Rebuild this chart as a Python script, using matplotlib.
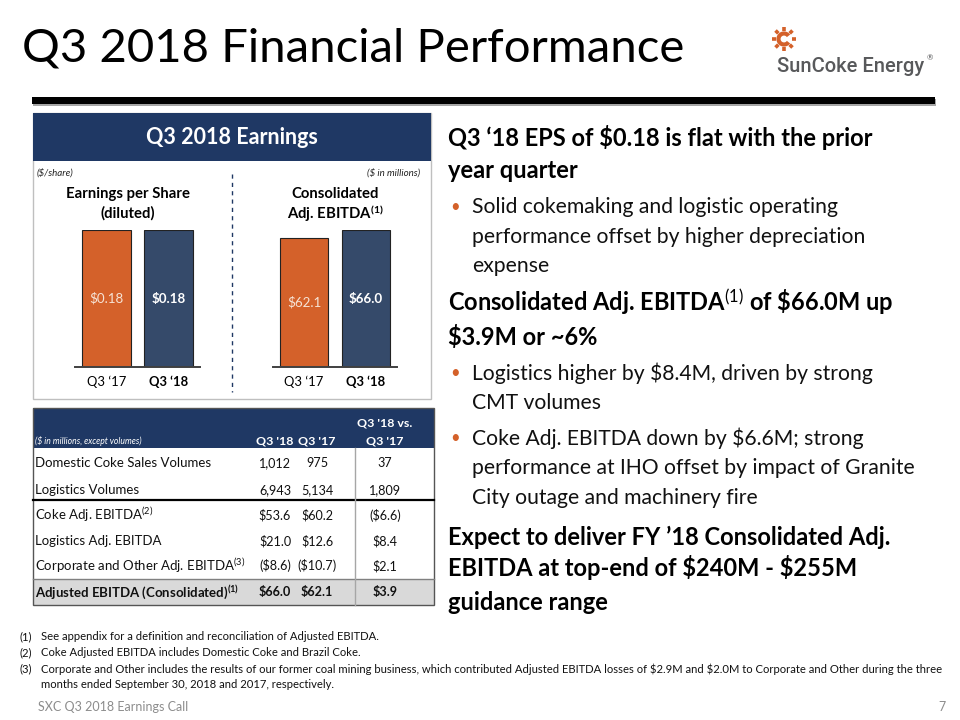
"""
Q3 2018 Financial Performance slide, redrawn with matplotlib.
Whole slide lives on one pixel-space axes; the two bar charts get their own axes.
"""
import numpy as np
import matplotlib
matplotlib.use("Agg")
import matplotlib.pyplot as plt
import matplotlib.patches as mpatches

W, H, DPI = 960, 720, 100

# ── Colors ─────────────────────────────────────────────────────────────────────
NAVY = "#1F3864";  BAR_NAVY = "#354A6A";  ORANGE = "#D4612A"
BORDER = "#BFBFBF";  ROW_GRAY = "#D9D9D9";  FOOT_GRAY = "#8C8C8C"
LOGO_GRAY = "#58595B";  TXT = "#111111"

plt.rcParams["font.family"] = ["Lato", "DejaVu Sans"]
plt.rcParams["mathtext.fontset"] = "custom"
plt.rcParams["mathtext.rm"] = "Lato"
plt.rcParams["mathtext.bf"] = "Lato:bold"
plt.rcParams["mathtext.it"] = "Lato:italic"

# ── Data ───────────────────────────────────────────────────────────────────────
periods = ["Q3 \u201817", "Q3 \u201818"]
eps = [0.18, 0.18]
adj_ebitda = [62.1, 66.0]

row_labels = ["Domestic Coke Sales Volumes", "Logistics Volumes",
              "Coke Adj. EBITDA$^{(2)}$", "Logistics Adj. EBITDA",
              "Corporate and Other Adj. EBITDA$^{(3)}$",
              "Adjusted EBITDA (Consolidated)$^{\\mathbf{(1)}}$"]
col_q318 = ["1,012", "6,943", "$53.6", "$21.0", "($8.6)", "$66.0"]
col_q317 = ["975", "5,134", "$60.2", "$12.6", "($10.7)", "$62.1"]
col_chg = ["37", "1,809", "($6.6)", "$8.4", "$2.1", "$3.9"]
col_heads_top = ["", "", "Q3 '18 vs."]
col_heads = ["Q3 '18", "Q3 '17", "Q3 '17"]

# (kind, text): h = bold heading, b = bullet line, c = bullet continuation
right_lines = [
    ("h", "Q3 \u201818 EPS of $0.18 is flat with the prior"),
    ("h", "year quarter"),
    ("b", "Solid cokemaking and logistic operating"),
    ("c", "performance offset by higher depreciation"),
    ("c", "expense"),
    ("h", "Consolidated Adj. EBITDA$^{(1)}$ of \\$66.0M up"),
    ("h", "$3.9M or ~6%"),
    ("b", "Logistics higher by $8.4M, driven by strong"),
    ("c", "CMT volumes"),
    ("b", "Coke Adj. EBITDA down by $6.6M; strong"),
    ("c", "performance at IHO offset by impact of Granite"),
    ("c", "City outage and machinery fire"),
    ("h", "Expect to deliver FY \u201918 Consolidated Adj."),
    ("h", "EBITDA at top-end of $240M - $255M"),
    ("h", "guidance range"),
]
right_y = [137, 170, 207, 237, 266, 303, 337, 373, 403, 438, 468, 498, 537, 568, 602]

footnotes = [
    ("(1)", "See appendix for a definition and reconciliation of Adjusted EBITDA."),
    ("(2)", "Coke Adjusted EBITDA includes Domestic Coke and Brazil Coke."),
    ("(3)", "Corporate and Other includes the results of our former coal mining business, "
            "which contributed Adjusted EBITDA losses of $2.9M and $2.0M to Corporate and Other during the three"),
    ("", "months ended September 30, 2018 and 2017, respectively."),
]

# ── Figure / pixel canvas ──────────────────────────────────────────────────────
fig = plt.figure(figsize=(W / DPI, H / DPI), dpi=DPI, facecolor="white")
bg = fig.add_axes([0, 0, 1, 1])
bg.set_xlim(0, W); bg.set_ylim(H, 0); bg.axis("off")


def px_axes(x0, y0, x1, y1):
    """axes placed by pixel box (top-left origin)"""
    return fig.add_axes([x0 / W, 1 - y1 / H, (x1 - x0) / W, (y1 - y0) / H])


def txt(x, y, s, **kw):
    kw.setdefault("va", "center")
    kw.setdefault("parse_math", "^{" in s)
    return bg.text(x, y, s, **kw)


# title + rule
txt(22, 49, "Q3 2018 Financial Performance", fontsize=34, color="black")
bg.add_patch(mpatches.Rectangle((33, 99), 903, 7, color="#A6A6A6", lw=0))
bg.add_patch(mpatches.Rectangle((32, 97), 903, 7, color="black", lw=0))

# logo
cx, cy = 784, 39
bg.add_patch(mpatches.Arc((cx, cy), 11, 11, theta1=35, theta2=325, color=ORANGE, lw=3))
for a in np.deg2rad([0, 45, 90, 135, 180, 225, 270, 315]):
    bg.plot([cx + 8 * np.cos(a), cx + 12 * np.cos(a)],
            [cy + 8 * np.sin(a), cy + 12 * np.sin(a)], color=ORANGE, lw=2.6,
            solid_capstyle="butt")
txt(777, 66, "SunCoke Energy", fontsize=14.5, color=LOGO_GRAY, family="Roboto",
    fontweight="medium")
txt(927, 58, "\u00ae", fontsize=5.5, color=LOGO_GRAY)

# ── Left panel: earnings bars ─────────────────────────────────────────────────
bg.add_patch(mpatches.Rectangle((33, 113), 398, 286, fill=False, ec=BORDER, lw=1))
bg.add_patch(mpatches.Rectangle((33, 113), 398, 48, color=NAVY, lw=0))
txt(232, 137, "Q3 2018 Earnings", fontsize=15.5, color="white", fontweight="bold", ha="center")
txt(37, 173, "($/share)", fontsize=7, style="italic", color="#222222")
txt(420, 173, "($ in millions)", fontsize=7, style="italic", color="#222222", ha="right")
bg.plot([232, 232], [174, 392], color=NAVY, lw=1, ls=(0, (3, 3)))

txt(128, 194, "Earnings per Share", fontsize=10.7, fontweight="bold", ha="center")
txt(128, 213, "(diluted)", fontsize=10.7, fontweight="bold", ha="center")
txt(335, 194, "Consolidated", fontsize=10.7, fontweight="bold", ha="center")
txt(335, 213, "Adj. EBITDA$^{\\mathbf{(1)}}$", fontsize=10.7, fontweight="bold", ha="center")

charts = [(75, 200, eps, "${:.2f}"), (273, 397, adj_ebitda, "${:.1f}")]
for x0, x1, vals, fmt in charts:
    ax = px_axes(x0, 230, x1, 367)
    xs = np.arange(len(vals))
    ax.bar(xs, vals, width=0.78, color=[ORANGE, BAR_NAVY], edgecolor="#222222",
           linewidth=0.8, zorder=2)
    ax.set_xlim(-0.5, len(vals) - 0.5)
    ax.set_ylim(0, max(vals))
    for s in ["top", "left", "right"]:
        ax.spines[s].set_visible(False)
    ax.spines["bottom"].set_color("#404040")
    ax.spines["bottom"].set_linewidth(1.4)
    ax.set_yticks([])
    ax.set_xticks(xs, periods, fontsize=9.4)
    ax.tick_params(axis="x", length=0, pad=6)
    ax.get_xticklabels()[1].set_fontweight("bold")
    ax.patch.set_alpha(0)
    for i, v in enumerate(vals):
        ax.text(i, v / 2, fmt.format(v), ha="center", va="center", fontsize=9.6,
                color="#F6E3D5" if i == 0 else "white",
                fontweight="normal" if i == 0 else "bold")

# ── Left panel: table ─────────────────────────────────────────────────────────
T0, T1 = 33, 434
col_x = [275, 317, 385]
row_y = [463, 490, 515, 541, 566, 592]
bg.add_patch(mpatches.Rectangle((T0, 408), T1 - T0, 40, color=NAVY, lw=0))
bg.add_patch(mpatches.Rectangle((T0, 579), T1 - T0, 26, color=ROW_GRAY, lw=0))
bg.add_patch(mpatches.Rectangle((T0, 408), T1 - T0, 197, fill=False, ec="#555555", lw=1))
bg.plot([T0, T1], [500, 500], color="black", lw=1.6)
bg.plot([T0, T1], [579, 579], color="#808080", lw=1)
bg.plot([355, 355], [448, 605], color="#A6A6A6", lw=1)

txt(35, 441, "($ in millions, except volumes)", fontsize=6.2, style="italic", color="white")
for x, top, h in zip(col_x, col_heads_top, col_heads):
    if top:
        txt(x, 423, top, fontsize=8.9, color="white", fontweight="bold", ha="center")
    txt(x, 441, h, fontsize=8.9, color="white", fontweight="bold", ha="center")

for i, (lab, a, b, c) in enumerate(zip(row_labels, col_q318, col_q317, col_chg)):
    w = "bold" if i == len(row_labels) - 1 else "normal"
    txt(35, row_y[i], lab, fontsize=9.5, fontweight=w, color=TXT)
    for x, s in zip(col_x, [a, b, c]):
        txt(x, row_y[i], s, fontsize=9.1, fontweight=w, color=TXT, ha="center",
            parse_math=False)

# ── Right column text ─────────────────────────────────────────────────────────
for (kind, s), y in zip(right_lines, right_y):
    if kind == "h":
        txt(448, y, s, fontsize=17, fontweight="bold", color="black")
    else:
        if kind == "b":
            txt(450, y, "\u2022", fontsize=12, color=ORANGE)
        txt(472, y, s, fontsize=15.2, color=TXT)

# ── Footnotes / footer ────────────────────────────────────────────────────────
for (tag, s), y in zip(footnotes, [637, 653, 669, 685]):
    if tag:
        txt(20, y, tag, fontsize=8.1, color=TXT, parse_math=False)
    txt(41, y, s, fontsize=8.1, color=TXT, parse_math=False)
txt(38, 707, "SXC Q3 2018 Earnings Call", fontsize=9, color=FOOT_GRAY)
txt(946, 707, "7", fontsize=9, color=FOOT_GRAY, ha="right")

fig.savefig("out.png", dpi=DPI, facecolor="white")
